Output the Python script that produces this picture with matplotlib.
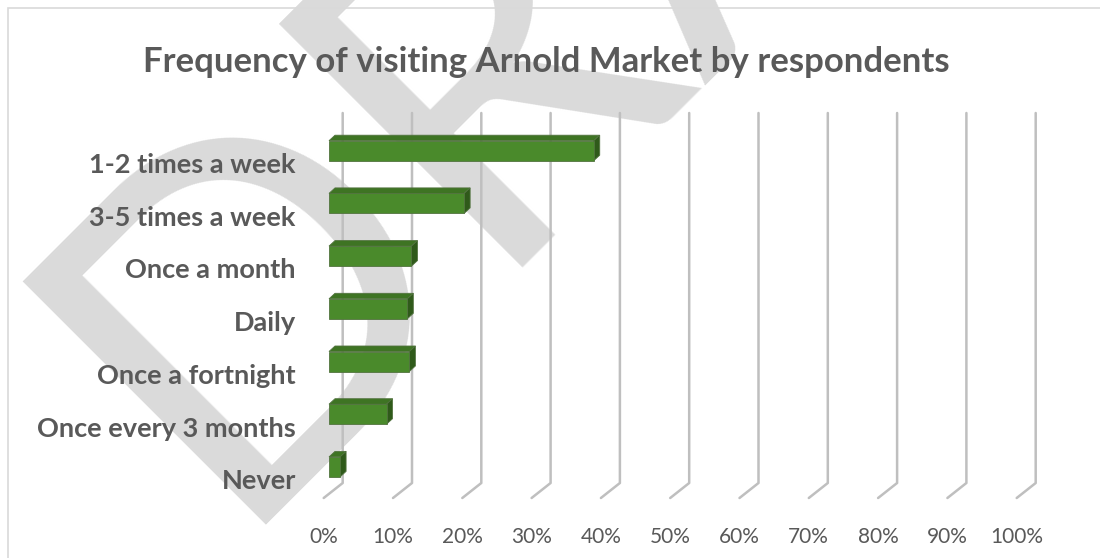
import matplotlib.pyplot as plt
from matplotlib.patches import Polygon, Rectangle

categories = ["1-2 times a week", "3-5 times a week", "Once a month", "Daily",
              "Once a fortnight", "Once every 3 months", "Never"]
values = [38.2, 19.5, 11.9, 11.3, 11.6, 8.3, 1.6]
ticks = [0, 10, 20, 30, 40, 50, 60, 70, 80, 90, 100]
tick_labels = [f"{t}%" for t in ticks]

W, H = 1100, 558
fig = plt.figure(figsize=(W / 100, H / 100), dpi=100)

# watermark behind everything
fig.text(222 / W, 1 - 525 / H, "DRAFT", fontsize=345, family="Lato",
         color="#DADADA", rotation=45, ha="left", va="baseline",
         rotation_mode="anchor", zorder=-5)

# thin chart frame (only left/top visible)
fig.add_artist(Rectangle((8 / W, -0.1), 1.2, 1.1 - 8 / H, transform=fig.transFigure,
                         fill=False, ec="#D9D9D9", lw=1.2, zorder=-4))

fig.text(546 / W, 1 - 62 / H, "Frequency of visiting Arnold Market by respondents",
         ha="center", va="center", fontsize=25, fontweight="bold",
         family="Lato", color="#595959")

# plot area, pixel based so the 3D offsets are easy to handle
L, R, T, B = 300, 1060, 90, 520
X0, Y0 = 329, 163          # 0% on bar front, first category
PX, PY = 6.93, 52.7        # px per percent, px per category
ax = fig.add_axes([L / W, 1 - B / H, (R - L) / W, (B - T) / H])
ax.set_zorder(1)
ax.set_xlim((L - X0) / PX, (R - X0) / PX)
ax.set_ylim((B - Y0) / PY, (T - Y0) / PY)
ax.patch.set_alpha(0)
for s in ax.spines.values():
    s.set_visible(False)

# back wall gridlines with floor foot
back_dx = 13.7 / PX
top_y, bot_y = (113 - Y0) / PY, (483 - Y0) / PY
foot_dx, foot_dy = -19 / PX, 15 / PY
for t in ticks:
    gx = t + back_dx
    ax.plot([gx, gx, gx + foot_dx], [top_y, bot_y, bot_y + foot_dy],
            color="#BFBFBF", lw=1.8, solid_capstyle="round", zorder=1)

# 3D-looking bars
h = 20 / PY
off = 12.3 / PY
ddx, ddy = 6 / PX, -5.5 / PY
for i, v in enumerate(values):
    y1 = i - off - h / 2
    y2 = i - off + h / 2
    top = Polygon([(0, y1), (v, y1), (v + ddx, y1 + ddy), (ddx, y1 + ddy)],
                  closed=True, fc="#3E7423", ec="#52733F", lw=0.6, zorder=3)
    side = Polygon([(v, y1), (v + ddx, y1 + ddy), (v + ddx, y2 + ddy), (v, y2)],
                   closed=True, fc="#2F5A1A", ec="#52733F", lw=0.6, zorder=3)
    ax.add_patch(top)
    ax.add_patch(side)
    ax.barh(i - off, v, height=h, left=0, color="#4A8A2B",
            edgecolor="#52733F", lw=0.6, zorder=4)

ax.set_yticks(range(len(categories)))
ax.set_yticklabels(categories, fontsize=19.5, fontweight="bold", family="Lato",
                   color="#595959")
ax.set_xticks([t + back_dx + foot_dx for t in ticks])
ax.set_xticklabels(tick_labels, fontsize=15, family="Lato", color="#595959")
ax.tick_params(length=0)
ax.tick_params(axis="y", pad=3)
ax.tick_params(axis="x", pad=5)

plt.savefig("out.png", dpi=100)
